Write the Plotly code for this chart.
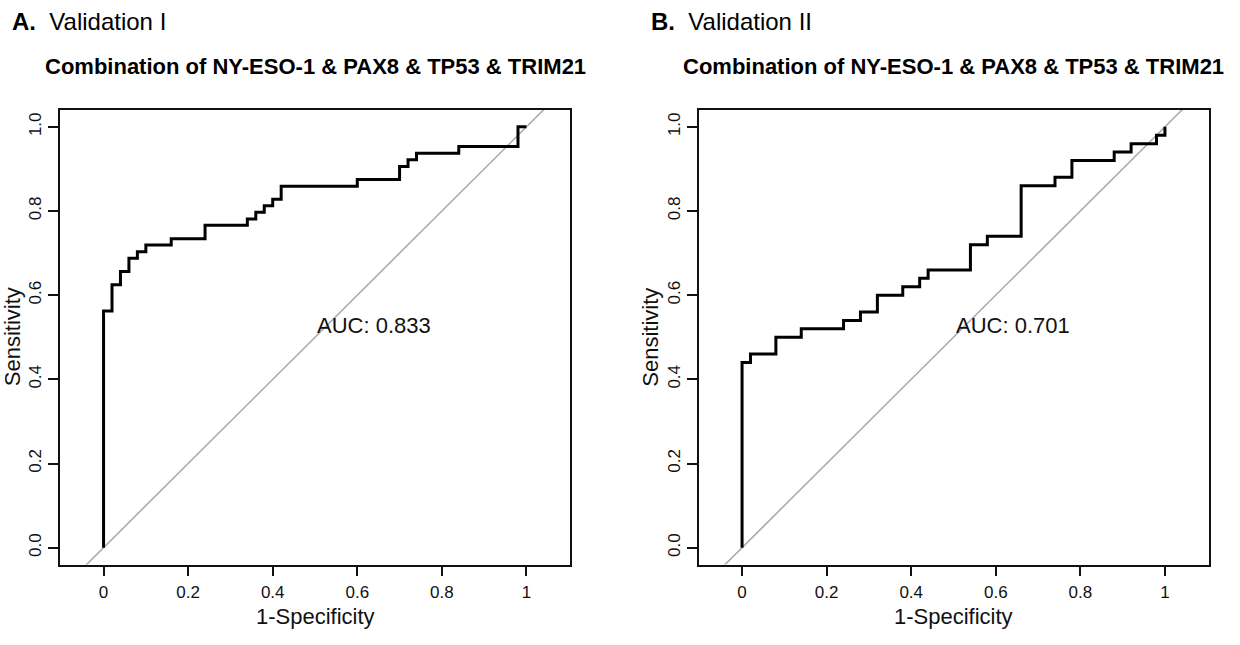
import plotly.graph_objects as go

# ---------------- data ----------------
fpr_A = [0, 0, 0.02, 0.04, 0.06, 0.08, 0.10, 0.16, 0.24, 0.34, 0.36, 0.38, 0.40, 0.42,
         0.60, 0.70, 0.72, 0.74, 0.84, 0.98, 1.0]
tpr_A = [0, 0.5625, 0.625, 0.65625, 0.6875, 0.703, 0.719, 0.734, 0.766, 0.781, 0.797,
         0.8125, 0.828, 0.859, 0.875, 0.906, 0.922, 0.9375, 0.953, 1.0, 1.0]

fpr_B = [0, 0, 0.02, 0.08, 0.14, 0.24, 0.28, 0.32, 0.38, 0.42, 0.44, 0.54, 0.58, 0.66,
         0.74, 0.78, 0.88, 0.92, 0.98, 1.0]
tpr_B = [0, 0.44, 0.46, 0.50, 0.52, 0.54, 0.56, 0.60, 0.62, 0.64, 0.66, 0.72, 0.74, 0.86,
         0.88, 0.92, 0.94, 0.96, 0.98, 1.0]

diag_x = [-0.2, 1.2]
diag_y = [-0.2, 1.2]

panel_letters = ["A.", "B."]
panel_names = ["Validation I", "Validation II"]
plot_title = "Combination of NY-ESO-1 & PAX8 & TP53 & TRIM21"
auc_labels = ["AUC: 0.833", "AUC: 0.701"]
x_tickvals = [0, 0.2, 0.4, 0.6, 0.8, 1]
x_ticktext = ["0", "0.2", "0.4", "0.6", "0.8", "1"]
y_tickvals = [0, 0.2, 0.4, 0.6, 0.8, 1.0]
y_ticktext = ["0.0", "0.2", "0.4", "0.6", "0.8", "1.0"]
x_title = "1-Specificity"
y_title = "Sensitivity"

# ---------------- layout geometry ----------------
W, H = 1240, 645
boxes = [(60, 570), (698.5, 1208.5)]
TOP, BOTTOM = 110, 564.5
FONT = "Liberation Sans, Arial, sans-serif"

fig = go.Figure()
curves = [(fpr_A, tpr_A), (fpr_B, tpr_B)]

annotations = []
for i, ((l, r), (fx, fy)) in enumerate(zip(boxes, curves)):
    xa = "x" if i == 0 else "x2"
    ya = "y" if i == 0 else "y2"
    fig.add_trace(go.Scatter(x=diag_x, y=diag_y, mode="lines",
                             line=dict(color="#a8a8a8", width=1.5),
                             xaxis=xa, yaxis=ya, showlegend=False, hoverinfo="skip"))
    fig.add_trace(go.Scatter(x=fx, y=fy, mode="lines", line_shape="hv",
                             line=dict(color="black", width=3),
                             xaxis=xa, yaxis=ya, showlegend=False))

    axis_common = dict(showgrid=False, zeroline=False, showline=True, mirror=True,
                       linecolor="#111111", linewidth=1.5, ticks="outside",
                       ticklen=10, tickwidth=1.5, tickcolor="#111111",
                       tickfont=dict(family=FONT, size=17, color="#111111"))
    xaxis = dict(domain=[l / W, r / W], range=[-0.103, 1.103], tickvals=x_tickvals,
                 ticktext=x_ticktext, anchor=ya, ticklabelstandoff=1, **axis_common)
    yaxis = dict(domain=[1 - BOTTOM / H, 1 - TOP / H], range=[-0.04, 1.04],
                 tickvals=y_tickvals, ticktext=y_ticktext, tickangle=-90,
                 anchor=xa, ticklabelstandoff=0, **axis_common)
    if i == 0:
        fig.update_layout(xaxis=xaxis, yaxis=yaxis)
    else:
        fig.update_layout(xaxis2=xaxis, yaxis2=yaxis)

    cx = (l + r) / 2
    # panel heading
    annotations.append(dict(text=f"<b>{panel_letters[i]}</b>  {panel_names[i]}",
                            xref="paper", yref="paper", x=(l - 50) / W, y=1 - 21 / H,
                            xanchor="left", yanchor="middle", showarrow=False,
                            font=dict(family=FONT, size=24, color="black")))
    # plot title
    annotations.append(dict(text=f"<b>{plot_title}</b>", xref="paper", yref="paper",
                            x=cx / W, y=1 - 67 / H, xanchor="center", yanchor="middle",
                            showarrow=False, font=dict(family=FONT, size=22, color="black")))
    # x title
    annotations.append(dict(text=x_title, xref="paper", yref="paper",
                            x=cx / W, y=1 - 616 / H, xanchor="center", yanchor="middle",
                            showarrow=False, font=dict(family=FONT, size=22, color="#111111")))
    # y title
    annotations.append(dict(text=y_title, xref="paper", yref="paper",
                            x=(l - 48) / W, y=1 - ((TOP + BOTTOM) / 2) / H,
                            xanchor="center", yanchor="middle", textangle=-90,
                            showarrow=False, font=dict(family=FONT, size=22, color="#111111")))
    # AUC
    annotations.append(dict(text=auc_labels[i], xref=xa, yref=ya, x=0.5, y=0.5,
                            xanchor="left", yanchor="bottom", yshift=-3, showarrow=False,
                            font=dict(family=FONT, size=22, color="#111111")))

fig.update_layout(width=W, height=H, margin=dict(l=0, r=0, t=0, b=0),
                  paper_bgcolor="white", plot_bgcolor="white",
                  annotations=annotations, showlegend=False)

fig.write_html("out.html")
